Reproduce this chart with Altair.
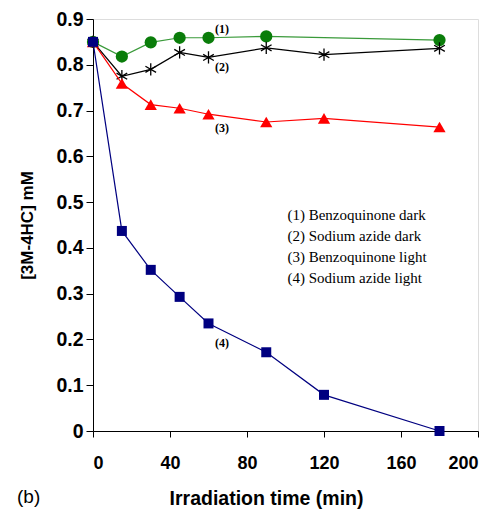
import altair as alt
import pandas as pd

time_all = [0, 15, 30, 45, 60, 90, 120, 180]
time_bq_dark = [0, 15, 30, 45, 60, 90, 180]

bq_dark = [0.85, 0.818, 0.849, 0.859, 0.859, 0.862, 0.854]
sa_dark = [0.85, 0.775, 0.790, 0.827, 0.816, 0.837, 0.822, 0.836]
bq_light = [0.85, 0.759, 0.713, 0.705, 0.692, 0.675, 0.683, 0.664]
sa_light = [0.85, 0.437, 0.352, 0.293, 0.235, 0.172, 0.079, 0.0]

x_ticks = [0, 40, 80, 120, 160, 200]
y_ticks = [0, 0.1, 0.2, 0.3, 0.4, 0.5, 0.6, 0.7, 0.8, 0.9]

tag_text = ["(1)", "(2)", "(3)", "(4)"]
tag_x = [67, 67, 67, 67]
tag_y = [0.878, 0.795, 0.662, 0.192]

legend_lines = ["(1) Benzoquinone dark", "(2) Sodium azide dark",
                "(3) Benzoquinone light", "(4) Sodium azide light"]
legend_x = [101, 101, 101, 101]
legend_y = [0.472, 0.426, 0.380, 0.334]

SANS = "Liberation Sans"
SERIF = "Liberation Serif"

xs = alt.Scale(domain=[0, 200], nice=False)
ys = alt.Scale(domain=[0, 0.9], nice=False)

xax = alt.Axis(values=x_ticks, grid=False, tickSize=6, labelPadding=17,
               labelFont=SANS, labelFontSize=18, labelFontWeight="bold",
               labelColor="black", domainColor="black", tickColor="black",
               title="Irradiation time (min)", titleFont=SANS, titleFontSize=19.5,
               titleFontWeight="bold", titleColor="black", titleX=173, titleY=67,
               titleBaseline="middle", titleAnchor="middle")
yax = alt.Axis(values=y_ticks, grid=False, tickSize=7, labelPadding=3,
               labelFont=SANS, labelFontSize=19.5, labelFontWeight="bold",
               labelColor="black", domainColor="black", tickColor="black",
               labelExpr="datum.value == 0 ? '0' : format(datum.value, '.1f')",
               title="[3M-4HC] mM", titleFont=SANS, titleFontSize=17,
               titleFontWeight="bold", titleColor="black", titleX=-66, titleY=206,
               titleBaseline="middle", titleAnchor="middle")


def series(times, vals, color, shape, size, filled=True, line_color=None):
    df = pd.DataFrame({"t": times, "v": vals})
    base = alt.Chart(df).encode(x=alt.X("t:Q", scale=xs, axis=xax),
                                y=alt.Y("v:Q", scale=ys, axis=yax))
    line = base.mark_line(color=line_color or color, strokeWidth=1.2)
    if filled:
        pts = base.mark_point(shape=shape, size=size, filled=True, color=color, opacity=1)
    else:
        pts = base.mark_point(shape=shape, size=size, filled=False, color=color,
                              strokeWidth=1.3, opacity=1)
    return line + pts


asterisk = "M0,-1L0,1M-0.87,-0.5L0.87,0.5M-0.87,0.5L0.87,-0.5"

s1 = series(time_bq_dark, bq_dark, "#0a7d0a", "circle", 150, line_color="#3a9a3a")
s2 = series(time_all, sa_dark, "black", asterisk, 150, filled=False)
s3 = series(time_all, bq_light, "#ff0000", "triangle-up", 150)
s4 = series(time_all, sa_light, "#000080", "square", 100)

tags = alt.Chart(pd.DataFrame({"t": tag_x, "v": tag_y, "s": tag_text})).mark_text(
    font=SERIF, fontSize=12, fontWeight="bold", color="black", align="center",
    baseline="middle").encode(x=alt.X("t:Q", scale=xs), y=alt.Y("v:Q", scale=ys), text="s:N")

legend = alt.Chart(pd.DataFrame({"t": legend_x, "v": legend_y, "s": legend_lines})).mark_text(
    font=SERIF, fontSize=15, color="black", align="left", baseline="middle").encode(
    x=alt.X("t:Q", scale=xs), y=alt.Y("v:Q", scale=ys), text="s:N")

panel = alt.Chart(pd.DataFrame({"s": ["(b)"]})).mark_text(
    font=SANS, fontSize=19, color="black", align="left", baseline="middle").encode(
    x=alt.value(-76), y=alt.value(478), text="s:N")

chart = alt.layer(s1, s2, s3, s4, tags, legend, panel).properties(
    width=385, height=412,
    autosize=alt.AutoSizeParams(type="none"),
    padding={"left": 85, "top": 11, "right": 10, "bottom": 80},
).configure_view(stroke="#666666", strokeWidth=1.5).configure(background="white")

chart.save("out.html", embed_options={"renderer": "svg", "actions": False})
